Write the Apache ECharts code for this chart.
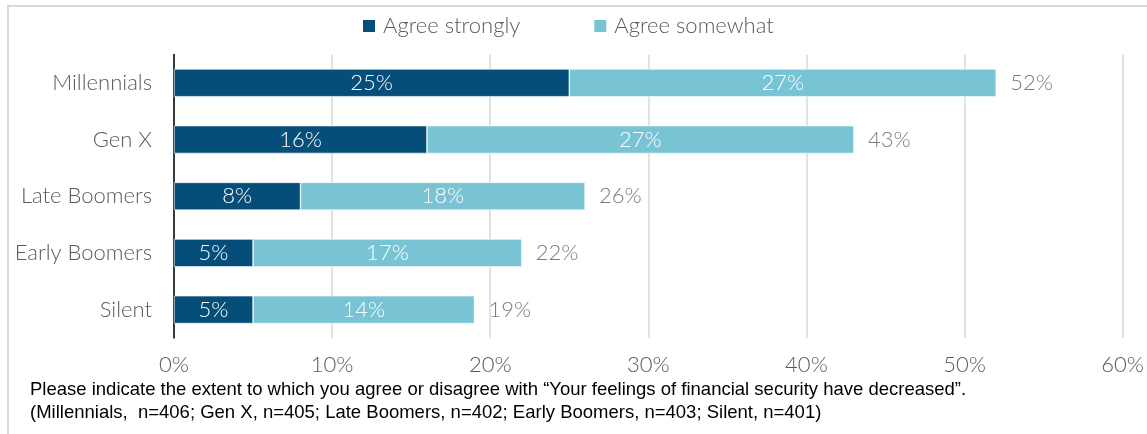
<!DOCTYPE html>
<html>
<head>
<meta charset="utf-8">
<script src="https://cdn.jsdelivr.net/npm/echarts@6/dist/echarts.min.js"></script>
<style>
  html, body { margin: 0; padding: 0; background: #fff; }
  #chart { width: 1147px; height: 434px; }
</style>
</head>
<body>
<div id="chart"></div>
<script>
// Generations surveyed, top to bottom
const categories = ['Millennials', 'Gen X', 'Late Boomers', 'Early Boomers', 'Silent'];
// Share agreeing, in percent
const agreeStrongly = [25, 16, 8, 5, 5];
const agreeSomewhat = [27, 27, 18, 17, 14];
const totalAgree = [52, 43, 26, 22, 19];
// Value axis ticks
const axisMax = 60;
const axisStep = 10;

const FONT = 'Lato';
const WEIGHT = 300;
const SIZE = 22;
const GREY = '#595959';
const NOTE_FONT = '18.5px "Liberation Sans", Arial, sans-serif';

const chart = echarts.init(document.getElementById('chart'), null, { renderer: 'canvas' });

chart.setOption({
  backgroundColor: '#fff',
  animation: false,
  textStyle: { fontFamily: FONT },
  legend: {
    data: ['Agree strongly', 'Agree somewhat'],
    left: 356,
    top: 10,
    itemWidth: 14,
    itemHeight: 14,
    itemGap: 72,
    icon: 'rect',
    textStyle: { fontFamily: FONT, fontWeight: WEIGHT, fontSize: SIZE, color: GREY, padding: [0, 0, 0, 2] }
  },
  grid: { left: 174, right: 23, top: 54.5, bottom: 96 },
  xAxis: {
    type: 'value',
    min: 0,
    max: axisMax,
    interval: axisStep,
    axisLine: { show: false },
    axisTick: { show: false },
    splitLine: { lineStyle: { color: '#D9D9D9', width: 1.5 } },
    axisLabel: {
      formatter: '{value}%',
      fontFamily: FONT,
      fontWeight: WEIGHT,
      fontSize: SIZE,
      color: GREY,
      margin: 16
    }
  },
  yAxis: {
    type: 'category',
    data: categories,
    inverse: true,
    axisLine: { show: true, lineStyle: { color: '#000', width: 1.5 } },
    axisTick: { show: false },
    axisLabel: { fontFamily: FONT, fontWeight: WEIGHT, fontSize: SIZE, color: GREY, margin: 22 }
  },
  series: [
    {
      name: 'Agree strongly',
      type: 'bar',
      stack: 'agree',
      data: agreeStrongly,
      barWidth: '49%',
      itemStyle: { color: '#054E7A', borderColor: '#fff', borderWidth: 0.6 },
      label: {
        show: true,
        position: 'inside',
        formatter: '{c}%',
        fontFamily: FONT,
        fontWeight: WEIGHT,
        fontSize: SIZE,
        color: '#fff'
      }
    },
    {
      name: 'Agree somewhat',
      type: 'bar',
      stack: 'agree',
      data: agreeSomewhat,
      barWidth: '49%',
      itemStyle: { color: '#78C4D4', borderColor: '#fff', borderWidth: 0.6 },
      label: {
        show: true,
        position: 'inside',
        formatter: '{c}%',
        fontFamily: FONT,
        fontWeight: WEIGHT,
        fontSize: SIZE,
        color: '#fff'
      }
    },
    {
      // Total labels at the end of each stacked bar
      name: 'Total',
      type: 'scatter',
      data: totalAgree.map((v, i) => [v, categories[i]]),
      symbolSize: 0,
      silent: true,
      label: {
        show: true,
        position: 'right',
        distance: 14,
        formatter: p => p.value[0] + '%',
        fontFamily: FONT,
        fontWeight: WEIGHT,
        fontSize: SIZE,
        color: GREY
      }
    }
  ],
  graphic: [
    {
      type: 'rect',
      shape: { x: 8, y: 6, width: 1300, height: 600 },
      style: { fill: 'none', stroke: '#D9D9D9', lineWidth: 2 },
      silent: true,
      z: -1
    },
    {
      type: 'text',
      left: 30,
      top: 380,
      style: {
        text: 'Please indicate the extent to which you agree or disagree with \u201cYour feelings of financial security have decreased\u201d.',
        font: NOTE_FONT,
        fill: '#000'
      }
    },
    {
      type: 'text',
      left: 30,
      top: 403,
      style: {
        text: '(Millennials,  n=406; Gen X, n=405; Late Boomers, n=402; Early Boomers, n=403; Silent, n=401)',
        font: NOTE_FONT,
        fill: '#000'
      }
    }
  ]
});
</script>
</body>
</html>
